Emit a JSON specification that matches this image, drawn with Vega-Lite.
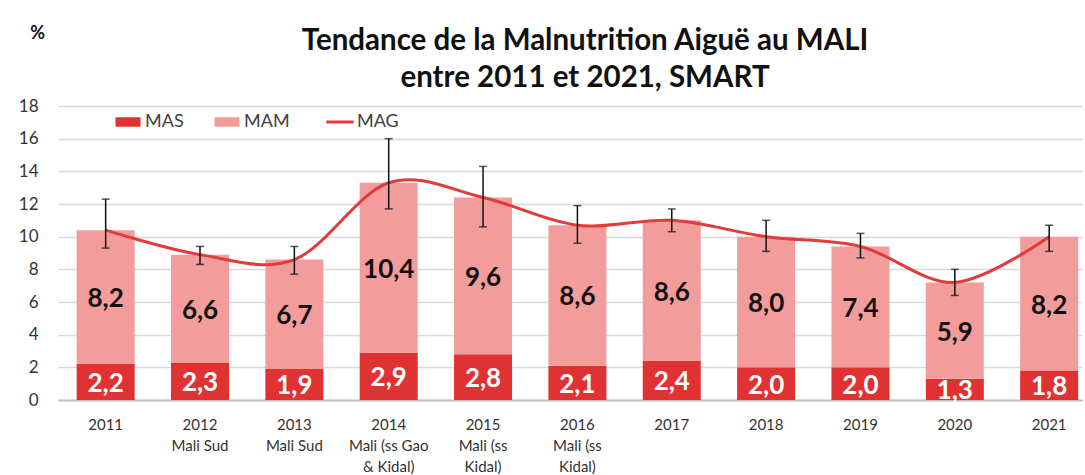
{
  "$schema": "https://vega.github.io/schema/vega-lite/v6.json",
  "width": 1024,
  "height": 294,
  "autosize": {"type": "none"},
  "padding": {"left": 58, "top": 106, "right": 3, "bottom": 75},
  "background": "white",
  "title": {
    "text": ["Tendance de la Malnutrition Aiguë au MALI", "entre 2011 et 2021, SMART"],
    "anchor": "middle",
    "font": "Lato",
    "fontWeight": "bold",
    "fontSize": 29.5,
    "lineHeight": 37,
    "color": "#111111",
    "dx": 15,
    "offset": -69
  },
  "config": {
    "locale": {"number": {"decimal": ",", "thousands": " ", "grouping": [3], "currency": ["", " €"]}},
    "view": {"stroke": null},
    "font": "Lato",
    "axisY": {
      "labelOverlap": false,
      "labelFont": "Lato",
      "labelFontSize": 17,
      "labelColor": "#333333",
      "labelPadding": 20,
      "ticks": false,
      "domain": false,
      "grid": true,
      "gridColor": "#d9d9d9",
      "gridWidth": 1.5
    }
  },
  "data": {
    "values": [
      {"an": "2011", "MAS": 2.2, "MAM": 8.2, "MAG": 10.4, "lo": 9.3, "hi": 12.3},
      {"an": "2012|Mali Sud", "MAS": 2.3, "MAM": 6.6, "MAG": 8.9, "lo": 8.3, "hi": 9.4},
      {"an": "2013|Mali Sud", "MAS": 1.9, "MAM": 6.7, "MAG": 8.6, "lo": 7.7, "hi": 9.4},
      {"an": "2014|Mali (ss Gao|& Kidal)", "MAS": 2.9, "MAM": 10.4, "MAG": 13.3, "lo": 11.7, "hi": 16.0},
      {"an": "2015|Mali (ss|Kidal)", "MAS": 2.8, "MAM": 9.6, "MAG": 12.4, "lo": 10.6, "hi": 14.3},
      {"an": "2016|Mali (ss|Kidal)", "MAS": 2.1, "MAM": 8.6, "MAG": 10.7, "lo": 9.6, "hi": 11.9},
      {"an": "2017", "MAS": 2.4, "MAM": 8.6, "MAG": 11.0, "lo": 10.3, "hi": 11.7},
      {"an": "2018", "MAS": 2.0, "MAM": 8.0, "MAG": 10.0, "lo": 9.1, "hi": 11.0},
      {"an": "2019", "MAS": 2.0, "MAM": 7.4, "MAG": 9.4, "lo": 8.7, "hi": 10.2},
      {"an": "2020", "MAS": 1.3, "MAM": 5.9, "MAG": 7.2, "lo": 6.4, "hi": 8.0},
      {"an": "2021", "MAS": 1.8, "MAM": 8.2, "MAG": 10.0, "lo": 9.1, "hi": 10.7}
    ]
  },
  "encoding": {
    "x": {
      "field": "an",
      "type": "nominal",
      "sort": null,
      "scale": {"paddingInner": 0.385, "paddingOuter": 0.119, "align": 0.83},
      "axis": {
        "title": null,
        "labelAngle": 0,
        "labelExpr": "split(datum.value, '|')",
        "labelFont": "Lato",
        "labelFontSize": 15,
        "labelColor": "#333333",
        "labelLineHeight": 21,
        "labelPadding": 17,
        "labelBaseline": "top",
        "ticks": false,
        "domainColor": "#bfbfbf",
        "domainWidth": 2,
        "labelLimit": 0
      }
    }
  },
  "resolve": {"scale": {"y": "independent"}},
  "layer": [
    {
      "layer": [
        {
          "mark": {"type": "bar"},
          "encoding": {
            "y": {
              "field": "MAS",
              "type": "quantitative",
              "scale": {"domain": [0, 18], "nice": false},
              "axis": {
                "values": [0, 2, 4, 6, 8, 10, 12, 14, 16, 18],
                "tickCount": 10,
                "labelOverlap": false,
                "title": "%",
                "titleAngle": 0,
                "titleX": -21,
                "titleY": -73,
                "titleAlign": "center",
                "titleBaseline": "middle",
                "titleFont": "Lato",
                "titleFontSize": 18,
                "titleFontWeight": "bold",
                "titleColor": "#111111"
              }
            },
            "color": {
              "datum": "MAS",
              "type": "nominal",
              "scale": {"domain": ["MAS", "MAM", "MAG"], "range": ["#e03232", "#f39c9c", "#e23b3b"]},
              "legend": {
                "orient": "none",
                "legendX": 61,
                "legendY": 7,
                "direction": "horizontal",
                "title": null,
                "labelFont": "Lato",
                "labelFontSize": 18,
                "labelColor": "#404040",
                "labelOffset": 8,
                "columnPadding": 30,
                "symbolSize": 625,
                "symbolOpacity": 1,
                "encode": {
                  "symbols": {
                    "update": {
                      "size": {"value": 625},
                      "shape": {"signal": "datum.value === 'MAG' ? 'M-1.1,0H1.1' : 'M-1,-0.38H1V0.38H-1Z'"},
                      "fill": {"signal": "datum.value === 'MAG' ? 'transparent' : scale('color', datum.value)"},
                      "stroke": {"signal": "datum.value === 'MAG' ? scale('color', datum.value) : 'transparent'"},
                      "strokeWidth": {"signal": "datum.value === 'MAG' ? 3 : 0"},
                      "opacity": {"value": 1}
                    }
                  }
                }
              }
            }
          }
        },
        {
          "mark": {"type": "bar"},
          "encoding": {
            "y": {"field": "MAS", "type": "quantitative"},
            "y2": {"field": "MAG"},
            "color": {"datum": "MAM", "type": "nominal"}
          }
        },
        {
          "mark": {"type": "line", "interpolate": "cardinal", "strokeWidth": 3},
          "encoding": {
            "y": {"field": "MAG", "type": "quantitative"},
            "color": {"datum": "MAG", "type": "nominal"}
          }
        },
        {
          "mark": {"type": "rule", "color": "#111111", "strokeWidth": 1.5},
          "encoding": {
            "y": {"field": "lo", "type": "quantitative"},
            "y2": {"field": "hi"}
          }
        },
        {
          "mark": {"type": "tick", "color": "#111111", "thickness": 1.5, "size": 8, "orient": "horizontal"},
          "encoding": {"y": {"field": "lo", "type": "quantitative"}}
        },
        {
          "mark": {"type": "tick", "color": "#111111", "thickness": 1.5, "size": 8, "orient": "horizontal"},
          "encoding": {"y": {"field": "hi", "type": "quantitative"}}
        }
      ]
    },
    {
      "layer": [
        {
          "mark": {"type": "text", "font": "Lato", "fontWeight": "bold", "fontSize": 26, "color": "white", "baseline": "middle", "dy": 2},
          "encoding": {
            "y": {"field": "MAS", "type": "quantitative", "scale": {"domain": [0, 36], "nice": false, "zero": true}, "axis": null},
            "text": {"field": "MAS", "type": "quantitative", "format": ".1f"}
          }
        },
        {
          "transform": [{"fold": ["MAS", "MAG"], "as": ["k", "v"]}],
          "mark": {"type": "text", "font": "Lato", "fontWeight": "bold", "fontSize": 26, "color": "#111111", "baseline": "middle", "dy": 2},
          "encoding": {
            "y": {"aggregate": "sum", "field": "v", "type": "quantitative", "scale": {"domain": [0, 36], "nice": false, "zero": true}, "axis": null},
            "text": {"field": "MAM", "type": "quantitative", "format": ".1f"}
          }
        }
      ]
    }
  ]
}
